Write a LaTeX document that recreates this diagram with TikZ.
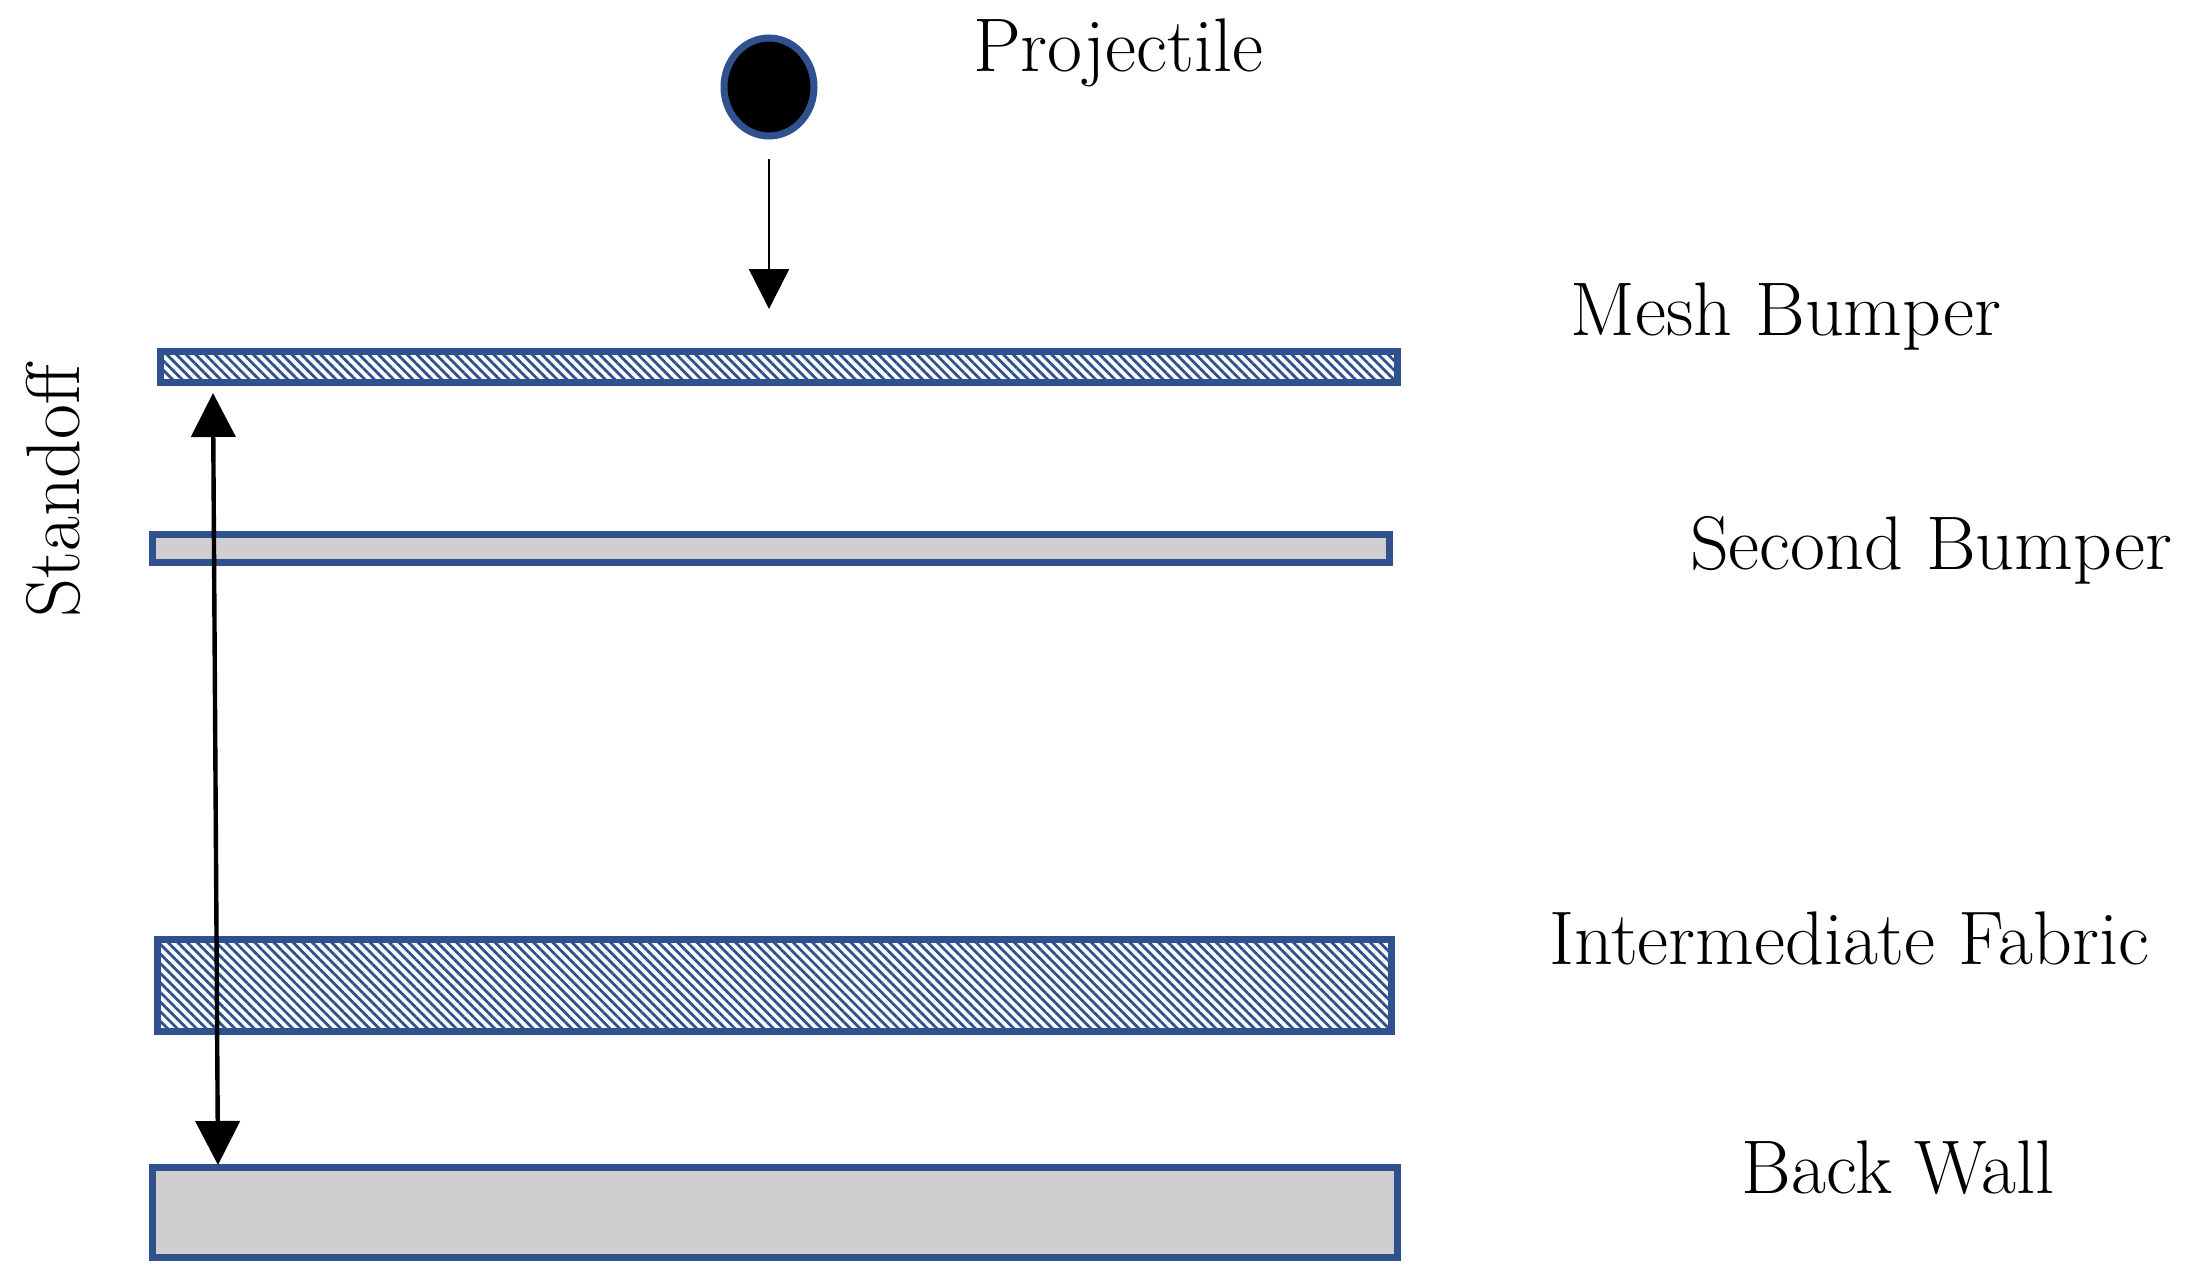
\documentclass[tikz,border=0pt]{standalone}
\usetikzlibrary{patterns.meta,arrows.meta,shapes.geometric}
\definecolor{bord}{RGB}{47,82,143}
\definecolor{wall}{RGB}{208,206,206}
\begin{document}
\begin{tikzpicture}[x=0.5pt,y=-0.5pt,
  plate/.style={draw=bord,line width=3.5pt},
  hatch/.style={plate,pattern={Lines[angle=-45,distance=3.4pt,line width=1.4pt]},pattern color=bord},
  lbl/.style={font=\fontsize{38}{42}\selectfont,inner sep=0pt}]
\useasboundingbox (0,0) rectangle (2190,1284);
\node[ellipse,draw=bord,line width=3.5pt,fill=black,minimum width=45pt,minimum height=49pt,inner sep=0pt] (proj) at (769,87) {};
\coordinate (hit) at (769,309);
\draw[line width=1.2pt,-{Triangle[length=20pt,width=20pt]}] (proj.south) ++(0,-10pt) coordinate (ps) (ps) -- (hit);
\draw[hatch] (160,351) rectangle (1397,382);
\draw[plate,fill=wall] (152,534) rectangle (1389,562);
\draw[hatch] (157,939) rectangle (1391,1031);
\draw[plate,fill=wall] (152,1167) rectangle (1397,1257);
\coordinate (sa) at (213,393);
\coordinate (sb) at (218,1165);
\draw[line width=2.2pt,{Triangle[length=22pt,width=22pt]}-{Triangle[length=22pt,width=22pt]}] (sa) -- (sb);
\node[lbl] (tp) at (1118,53) {Projectile};
\node[lbl] (tm) at (1786,317) {Mesh Bumper};
\node[lbl] (ts) at (1931,550) {Second Bumper};
\node[lbl] (ti) at (1849,938) {Intermediate Fabric};
\node[lbl] (tb) at (1898,1168) {Back Wall};
\node[lbl,rotate=90] (tso) at (53,491) {Standoff};
\end{tikzpicture}
\end{document}
